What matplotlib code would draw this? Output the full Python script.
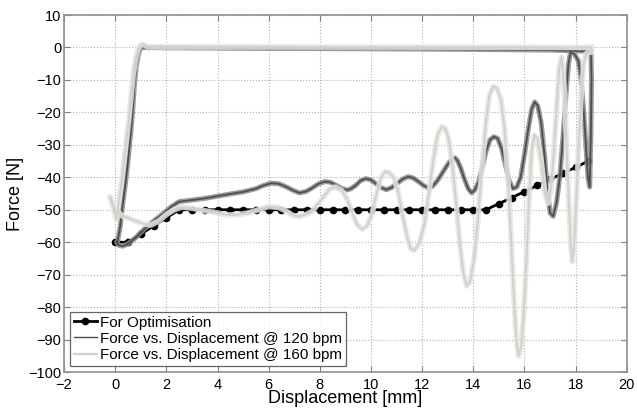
import matplotlib
matplotlib.use("Agg")
import matplotlib.pyplot as plt
import matplotlib.patheffects as pe

plt.rcParams['font.family'] = ['Liberation Sans', 'DejaVu Sans']

# For Optimisation (black, markers)
opt_x = [0.0, 0.5, 1.0, 1.5, 2.0, 2.5, 3.0, 3.5, 4.0, 4.5, 5.0, 5.5, 6.0, 6.5, 7.0,
         7.5, 8.0, 8.5, 9.0, 9.5, 10.0, 10.5, 11.0, 11.5, 12.0, 12.5, 13.0, 13.5,
         14.0, 14.5, 15.0, 15.5, 16.0, 16.5, 17.0, 17.5, 18.0, 18.5]
opt_y = [-60.0, -60.0, -57.5, -55.0, -52.5, -50.0, -50.0, -50.0, -50.0, -50.0, -50.0,
         -50.0, -50.0, -50.0, -50.0, -50.0, -50.0, -50.0, -50.0, -50.0, -50.0, -50.0,
         -50.0, -50.0, -50.0, -50.0, -50.0, -50.0, -50.0, -50.0, -48.1, -46.3, -44.4,
         -42.5, -40.6, -38.8, -36.9, -35.0]

# Force vs. Displacement @ 120 bpm (one loop)
bpm120_x = [18.6, 18.62, 18.6, 18.55, 18.48, 18.4, 18.3, 18.2, 18.1, 17.95, 17.8, 17.72,
            17.62, 17.5, 17.38, 17.25, 17.12, 17.0, 16.9, 16.78, 16.65, 16.52, 16.4,
            16.28, 16.15, 16.0, 15.85, 15.7, 15.55, 15.4, 15.25, 15.1, 14.95, 14.8,
            14.65, 14.5, 14.35, 14.2, 14.05, 13.93, 13.8, 13.65, 13.5, 13.38, 13.28,
            13.15, 13.0, 12.8, 12.6, 12.4, 12.25, 12.05, 11.85, 11.65, 11.45, 11.25,
            11.0, 10.8, 10.6, 10.4, 10.2, 10.0, 9.8, 9.6, 9.4, 9.2, 9.06, 8.85, 8.6,
            8.4, 8.2, 7.95, 7.7, 7.45, 7.2, 6.95, 6.7, 6.4, 6.1, 5.8, 5.5, 5.0, 4.6,
            4.0, 3.5, 3.0, 2.5, 2.2, 1.9, 1.5, 1.2, 1.0, 0.75, 0.5, 0.3, 0.15, 0.05,
            0.1, 0.2, 0.3, 0.4, 0.5, 0.6, 0.68, 0.75, 0.82, 0.9, 0.97, 1.05, 2.0, 6.0,
            10.0, 14.0, 17.0, 18.6]
bpm120_y = [-1.2, -10.0, -25.0, -43.0, -40.0, -30.0, -18.0, -9.0, -4.0, -2.0, -1.5, -5.0,
            -15.0, -28.0, -40.0, -48.0, -52.0, -51.0, -44.0, -33.0, -23.0, -18.0, -16.8,
            -19.0, -25.0, -33.0, -40.0, -43.0, -43.5, -41.0, -36.0, -31.0, -28.0, -27.5,
            -28.5, -32.0, -37.0, -41.5, -44.0, -44.8, -43.5, -40.5, -37.0, -34.8, -34.0,
            -34.5, -36.0, -38.5, -41.0, -42.8, -43.3, -42.5, -41.3, -40.2, -39.8, -40.5,
            -42.0, -43.2, -43.8, -43.2, -42.0, -40.8, -40.4, -41.0, -42.5, -43.6, -43.9,
            -43.4, -42.3, -41.5, -41.3, -42.0, -43.3, -44.4, -44.8, -44.0, -43.0, -42.0,
            -41.8, -42.5, -43.5, -44.5, -45.0, -45.8, -46.5, -47.0, -47.5, -49.0, -51.0,
            -53.5, -55.5, -57.0, -59.0, -60.5, -61.2, -61.0, -60.0,
            -59.5, -55.0, -48.0, -42.0, -35.0, -27.0, -20.0, -12.0, -6.0, -2.5, -0.6,
            0.0, -0.1, -0.3, -0.4, -0.6, -0.8, -1.2]

# Force vs. Displacement @ 160 bpm (one loop)
bpm160_x = [18.6, 18.62, 18.5, 18.4, 18.32, 18.22, 18.12, 18.02, 17.93, 17.87, 17.8,
            17.72, 17.63, 17.55, 17.45, 17.36, 17.26, 17.15, 17.03, 16.92, 16.8, 16.65,
            16.5, 16.38, 16.28, 16.18, 16.08, 15.97, 15.87, 15.77, 15.68, 15.58, 15.47,
            15.35, 15.22, 15.08, 14.92, 14.78, 14.62, 14.48, 14.33, 14.18, 14.03, 13.88,
            13.75, 13.62, 13.48, 13.33, 13.18, 13.03, 12.9, 12.76, 12.6, 12.45, 12.28,
            12.1, 11.9, 11.7, 11.55, 11.4, 11.22, 11.05, 10.88, 10.7, 10.55, 10.4,
            10.22, 10.05, 9.85, 9.65, 9.45, 9.25, 9.05, 8.85, 8.6, 8.4, 8.2, 7.95, 7.7,
            7.45, 7.2, 6.95, 6.7, 6.4, 6.0, 5.6, 5.2, 4.8, 4.4, 4.0, 3.5, 3.0, 2.6,
            2.3, 2.0, 1.7, 1.4, 1.1, 0.8, 0.5, 0.3, 0.15, 0.0, -0.2, -0.05, 0.05, 0.15,
            0.26, 0.4, 0.52, 0.62, 0.71, 0.8, 0.9, 1.0, 1.1, 1.25, 1.5, 5.0, 12.0, 18.6]
bpm160_y = [0.0, -1.5, -1.5, -2.0, -5.0, -14.0, -30.0, -48.0, -62.0, -66.0, -60.0,
            -45.0, -27.0, -12.0, -3.0, -6.0, -18.0, -32.0, -44.0, -48.0, -45.0, -35.0,
            -28.0, -27.0, -32.0, -46.0, -65.0, -82.0, -92.0, -95.0, -90.0, -76.0, -58.0,
            -40.0, -25.0, -16.0, -12.5, -12.0, -15.0, -24.0, -38.0, -53.0, -65.0, -72.0,
            -73.5, -70.0, -61.0, -48.0, -36.0, -28.0, -25.0, -24.4, -27.0, -34.0, -44.0,
            -54.0, -60.0, -62.5, -62.0, -58.0, -51.0, -44.0, -40.0, -38.5, -38.3, -40.0,
            -45.0, -51.0, -55.0, -56.0, -54.5, -50.5, -46.5, -44.0, -43.0, -43.5, -45.5,
            -48.0, -50.5, -51.5, -52.0, -51.8, -50.5, -49.3, -49.0, -50.0, -51.0, -51.5,
            -51.6, -51.0, -50.3, -49.5, -49.2, -50.0, -51.5, -53.5, -54.7, -54.3, -53.5,
            -52.5, -52.0, -51.0, -50.0, -46.0, -50.0, -53.0, -47.0, -40.8, -31.0, -23.0,
            -15.0, -8.0, -3.5, -0.5, 0.8, 1.0, 0.3, 0.2, 0.2, 0.1, 0.0]

xticks = list(range(-2, 21, 2))
yticks = list(range(-100, 11, 10))

fig = plt.figure(figsize=(6.37, 4.12), dpi=100)
ax = fig.add_axes([0.1005, 0.097, 0.8835, 0.8665])

ax.plot(opt_x, opt_y, color='black', lw=2.0, marker='o', ms=4.5, zorder=2,
        label='For Optimisation')
ax.plot(bpm120_x, bpm120_y, color='#4e4e4e', lw=1.3, zorder=3,
        label='Force vs. Displacement @ 120 bpm',
        path_effects=[pe.Stroke(linewidth=3.6, foreground='#8c8c8c', alpha=0.85),
                      pe.Normal()])
ax.plot(bpm160_x, bpm160_y, color='#d2d2cc', lw=1.4, zorder=4,
        label='Force vs. Displacement @ 160 bpm',
        path_effects=[pe.Stroke(linewidth=4.0, foreground='#e4e4e0', alpha=0.85),
                      pe.Normal()])

ax.set_xlim(-2, 20)
ax.set_ylim(-100, 10)
ax.set_xticks(xticks)
ax.set_yticks(yticks)
ax.grid(True, linestyle=':', color='#b0b0b0', lw=0.8)
ax.tick_params(direction='in', top=True, right=True, length=4, color='#808080',
               labelsize=10.5)
ax.tick_params(axis='x', pad=4)
ax.tick_params(axis='y', pad=2)
for s in ax.spines.values():
    s.set_color('#909090')
    s.set_linewidth(1.2)

ax.set_xlabel('Displacement [mm]', fontsize=13, labelpad=-1)
ax.set_ylabel('Force [N]', fontsize=13, labelpad=3)

leg = ax.legend(loc='lower left', fontsize=11, frameon=True, fancybox=False,
                edgecolor='#404040', borderaxespad=0.4, handlelength=1.5,
                handletextpad=0.2, labelspacing=0.15, borderpad=0.25)
leg.get_frame().set_linewidth(0.9)
lines = leg.get_lines()
lines[1].set_linewidth(1.0)
lines[1].set_path_effects([])
lines[2].set_linewidth(1.6)
lines[2].set_path_effects([])

fig.savefig('out.png', dpi=100)
